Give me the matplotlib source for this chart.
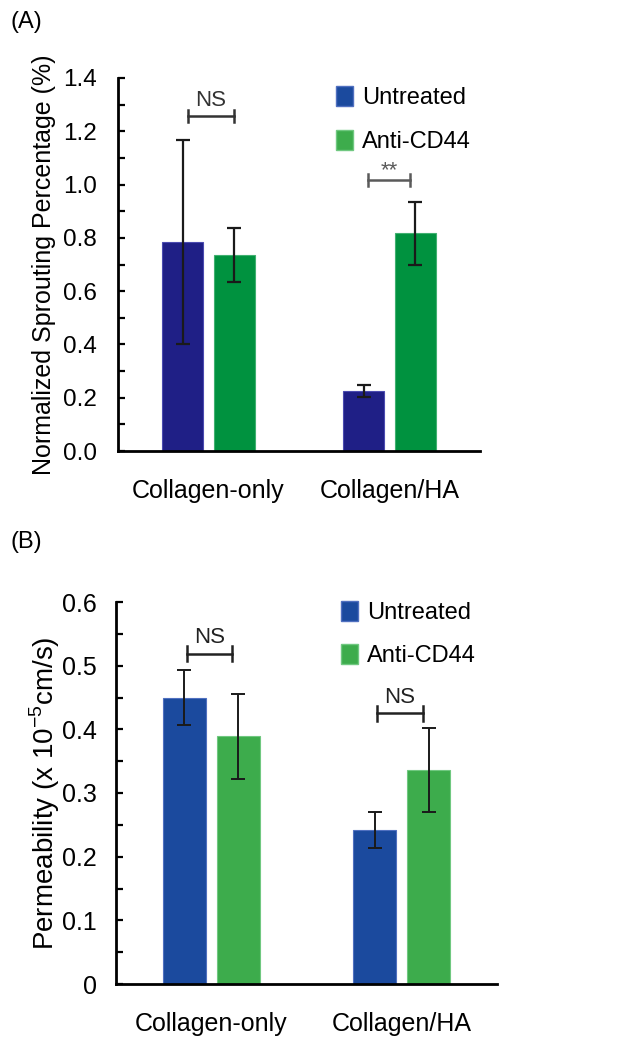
import numpy as np
import matplotlib.pyplot as plt
from matplotlib.patches import Patch

plt.rcParams['font.family'] = ['Liberation Sans', 'DejaVu Sans']

groups = ['Collagen-only', 'Collagen/HA']
series = ['Untreated', 'Anti-CD44']

# panel A: normalized sprouting percentage
sprout_mean = {'Untreated': [0.785, 0.225], 'Anti-CD44': [0.736, 0.818]}
sprout_err = {'Untreated': [0.383, 0.022], 'Anti-CD44': [0.100, 0.118]}

# panel B: permeability (x 10^-5 cm/s)
perm_mean = {'Untreated': [0.450, 0.242], 'Anti-CD44': [0.389, 0.336]}
perm_err = {'Untreated': [0.043, 0.028], 'Anti-CD44': [0.067, 0.066]}

colors_a = {'Untreated': '#1f1f86', 'Anti-CD44': '#00923f'}
edges_a = {'Untreated': '#4b4bb0', 'Anti-CD44': '#40b070'}
colors_b = {'Untreated': '#1b4a9e', 'Anti-CD44': '#3dac4c'}
edges_b = {'Untreated': '#5070c0', 'Anti-CD44': '#70c880'}

W, H = 643, 1050
fig = plt.figure(figsize=(W / 100, H / 100), dpi=100)


def px_axes(l, t, r, b):
    return fig.add_axes([l / W, 1 - b / H, (r - l) / W, (b - t) / H])


def bracket(ax, x0, x1, y, h, text, color, fs, dy):
    ax.plot([x0, x1], [y, y], color=color, lw=1.8, clip_on=False)
    ax.plot([x0, x0], [y - h, y + h], color=color, lw=1.8, clip_on=False)
    ax.plot([x1, x1], [y - h, y + h], color=color, lw=1.8, clip_on=False)
    ax.text((x0 + x1) / 2, y + dy, text, ha='center', va='bottom',
            fontsize=fs, color=color)


def style_axes(ax):
    for s in ['top', 'right']:
        ax.spines[s].set_visible(False)
    for s in ['left', 'bottom']:
        ax.spines[s].set_linewidth(2)
    ax.tick_params(axis='y', which='both', direction='in', length=5, width=1.6,
                   labelsize=17.5, pad=15)
    ax.tick_params(axis='x', length=0, labelsize=18, pad=20)
    ax.set_xlim(-0.5, 1.5)
    ax.set_xticks(range(len(groups)))
    ax.set_xticklabels(groups)


x = np.arange(len(groups))
offsets = {'Untreated': -0.142, 'Anti-CD44': 0.142}
bw = 0.226

# ---- panel A
axA = px_axes(118, 78, 480, 451)
for s in series:
    axA.bar(x + offsets[s], sprout_mean[s], bw, color=colors_a[s],
            edgecolor=edges_a[s], linewidth=0.8, zorder=2)
    axA.errorbar(x + offsets[s], sprout_mean[s], yerr=sprout_err[s], fmt='none',
                 ecolor='#1a1a1a', elinewidth=1.6, capsize=5, capthick=1.6, zorder=3)
axA.set_ylim(0, 1.4)
axA.set_yticks(np.arange(0, 1.41, 0.2))
axA.set_yticks(np.arange(0.1, 1.4, 0.2), minor=True)
axA.set_yticklabels(['%.1f' % v for v in np.arange(0, 1.41, 0.2)])
style_axes(axA)
axA.set_ylabel('Normalized Sprouting Percentage (%)', fontsize=18, labelpad=5)
bracket(axA, -0.115, 0.143, 1.257, 0.022, 'NS', '#333333', 16, 0.02)
bracket(axA, 0.882, 1.113, 1.017, 0.022, '**', '#5a5a5a', 16, -0.005)
handles = [Patch(facecolor=colors_b[s], edgecolor=edges_b[s]) for s in series]
axA.legend(handles, series, loc='upper left', frameon=False, fontsize=17,
           bbox_to_anchor=(336 / W, 1 - 86 / H), bbox_transform=fig.transFigure,
           borderpad=0, borderaxespad=0, handlelength=0.7, handleheight=0.9,
           handletextpad=0.4, labelspacing=0.9)
fig.text(11 / W, 1 - 22 / H, '(A)', fontsize=17, va='center', ha='left')

# ---- panel B
axB = px_axes(116, 602, 497, 984)
for s in series:
    axB.bar(x + offsets[s], perm_mean[s], bw, color=colors_b[s],
            edgecolor=edges_b[s], linewidth=0.8, zorder=2)
    axB.errorbar(x + offsets[s], perm_mean[s], yerr=perm_err[s], fmt='none',
                 ecolor='#1a1a1a', elinewidth=1.4, capsize=5, capthick=1.4, zorder=3)
axB.set_ylim(0, 0.6)
axB.set_yticks(np.arange(0, 0.61, 0.1))
axB.set_yticks(np.arange(0.05, 0.6, 0.1), minor=True)
axB.set_yticklabels(['0'] + ['%.1f' % v for v in np.arange(0.1, 0.61, 0.1)])
style_axes(axB)
axB.tick_params(axis='y', labelsize=18, pad=14)
axB.set_ylabel('Permeability (x 10$^{\\mathregular{-5}}$cm/s)', fontsize=20, labelpad=0)
bracket(axB, -0.126, 0.11, 0.519, 0.012, 'NS', '#222222', 16, 0.008)
bracket(axB, 0.87, 1.11, 0.425, 0.012, 'NS', '#222222', 16, 0.008)
handles = [Patch(facecolor=colors_b[s], edgecolor=edges_b[s]) for s in series]
axB.legend(handles, series, loc='upper left', frameon=False, fontsize=17,
           bbox_to_anchor=(341 / W, 1 - 601 / H), bbox_transform=fig.transFigure,
           borderpad=0, borderaxespad=0, handlelength=0.7, handleheight=0.9,
           handletextpad=0.4, labelspacing=0.85)
fig.text(11 / W, 1 - 542 / H, '(B)', fontsize=17, va='center', ha='left')

fig.savefig('out.png', dpi=100)
